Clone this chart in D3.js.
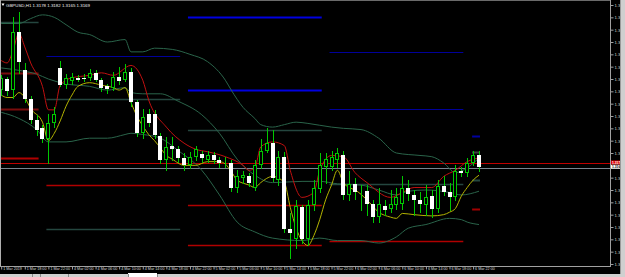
<!DOCTYPE html>
<html>
<head>
<meta charset="utf-8">
<script src="https://cdn.jsdelivr.net/npm/d3@7"></script>
<style>
body { margin: 0; background: #000; overflow: hidden; }
svg { display: block; }
</style>
</head>
<body>
<div id="chart"></div>
<script>
// GBPUSD H1, 1 Mar 2019 14:00 .. 6 Mar 2019 23:00
var symbol = "GBPUSD,H1";

var opens = [1.3231,1.3240,1.3231,1.3278,1.3247,1.3224,1.3207,1.3200,1.3191,1.3204,
  1.3249,1.3235,1.3238,1.3241,1.3241,1.3241,1.3245,1.3239,1.3234,1.3233,
  1.3242,1.3239,1.3246,1.3221,1.3196,1.3212,1.3212,1.3194,1.3174,1.3186,
  1.3183,1.3176,1.3170,1.3177,1.3179,1.3174,1.3178,1.3174,1.3172,1.3172,
  1.3152,1.3160,1.3161,1.3152,1.3170,1.3182,1.3188,1.3158,1.3177,1.3118,
  1.3110,1.3136,1.3110,1.3138,1.3151,1.3169,1.3169,1.3174,1.3178,1.3146,
  1.3155,1.3148,1.3149,1.3139,1.3128,1.3137,1.3135,1.3138,1.3139,1.3152,
  1.3146,1.3142,1.3138,1.3145,1.3135,1.3153,1.3148,1.3144,1.3165,1.3164,
  1.3172,1.3178];
var highs = [1.3243,1.3242,1.3290,1.3294,1.3253,1.3226,1.3211,1.3203,1.3212,1.3217,
  1.3255,1.3244,1.3245,1.3243,1.3244,1.3248,1.3247,1.3241,1.3236,1.3246,
  1.3250,1.3252,1.3249,1.3223,1.3216,1.3216,1.3215,1.3196,1.3193,1.3193,
  1.3186,1.3180,1.3181,1.3186,1.3182,1.3182,1.3181,1.3177,1.3177,1.3174,
  1.3166,1.3165,1.3164,1.3174,1.3191,1.3200,1.3199,1.3182,1.3181,1.3131,
  1.3142,1.3138,1.3142,1.3158,1.3180,1.3180,1.3182,1.3184,1.3182,1.3165,
  1.3160,1.3154,1.3154,1.3142,1.3152,1.3142,1.3150,1.3152,1.3161,1.3158,
  1.3150,1.3148,1.3154,1.3150,1.3158,1.3161,1.3156,1.3170,1.3169,1.3176,
  1.3182,1.3182];
var lows = [1.3227,1.3227,1.3225,1.3245,1.3221,1.3204,1.3195,1.3189,1.3172,1.3201,
  1.3234,1.3233,1.3236,1.3238,1.3238,1.3239,1.3238,1.3230,1.3229,1.3231,
  1.3236,1.3238,1.3218,1.3194,1.3192,1.3202,1.3192,1.3172,1.3166,1.3174,
  1.3173,1.3166,1.3168,1.3174,1.3173,1.3173,1.3172,1.3169,1.3169,1.3149,
  1.3148,1.3156,1.3153,1.3150,1.3168,1.3181,1.3157,1.3154,1.3116,1.3095,
  1.3103,1.3107,1.3105,1.3134,1.3148,1.3156,1.3166,1.3169,1.3143,1.3142,
  1.3143,1.3134,1.3130,1.3124,1.3124,1.3130,1.3132,1.3135,1.3135,1.3142,
  1.3130,1.3132,1.3130,1.3128,1.3132,1.3146,1.3134,1.3142,1.3161,1.3161,
  1.3170,1.3165];
var closes = [1.3241,1.3230,1.3278,1.3254,1.3224,1.3207,1.3199,1.3191,1.3204,1.3212,
  1.3235,1.3241,1.3242,1.3239,1.3240,1.3245,1.3239,1.3233,1.3232,1.3242,
  1.3238,1.3246,1.3221,1.3196,1.3209,1.3204,1.3195,1.3174,1.3185,1.3183,
  1.3176,1.3170,1.3177,1.3183,1.3176,1.3178,1.3174,1.3172,1.3173,1.3152,
  1.3161,1.3162,1.3156,1.3170,1.3182,1.3188,1.3160,1.3177,1.3118,1.3115,
  1.3137,1.3110,1.3138,1.3152,1.3170,1.3175,1.3177,1.3180,1.3146,1.3155,
  1.3148,1.3149,1.3139,1.3128,1.3139,1.3134,1.3139,1.3144,1.3152,1.3147,
  1.3142,1.3139,1.3144,1.3135,1.3153,1.3148,1.3144,1.3165,1.3164,1.3172,
  1.3178,1.3169];

// indicator readings: [bar, price]
var maRed = [[0,1.3255],[1,1.3253],[2,1.3263],[3,1.3277],[4,1.3266],[5,1.3253],[7,1.3234],[8,1.3215],
  [9,1.3215],[10,1.3235],[12,1.3241],[15,1.3243],[17,1.3245],[19,1.3243],[22,1.3251],[24,1.3239],
  [25,1.3223],[28,1.3201],[31,1.3188],[33,1.3183],[35,1.3181],[38,1.3177],[41,1.3170],[42,1.3166],
  [43,1.3168],[44,1.3185],[46,1.3189],[48,1.3186],[49,1.3166],[51,1.3144],[53,1.3148],[54,1.3166],
  [56,1.3178],[58,1.3177],[60,1.3164],[62,1.3156],[66,1.3144],[68,1.3148],[70,1.3152],[73,1.3152],
  [75,1.3161],[77,1.3166],[79,1.3173],[81,1.3176]];
var maYellow = [[0,1.3227],[1,1.3225],[2,1.3225],[3,1.3229],[4,1.3225],[5,1.3216],[7,1.3205],[8,1.3190],
  [9,1.3196],[10,1.3206],[11,1.3218],[12,1.3227],[13,1.3234],[15,1.3237],[17,1.3235],[19,1.3233],
  [20,1.3231],[21,1.3233],[22,1.3221],[23,1.3210],[24,1.3202],[25,1.3195],[26,1.3190],[27,1.3184],
  [28,1.3178],[29,1.3175],[31,1.3170],[33,1.3170],[35,1.3173],[37,1.3173],[38,1.3171],[39,1.3165],
  [40,1.3158],[42,1.3154],[43,1.3152],[44,1.3156],[46,1.3161],[48,1.3156],[49,1.3136],[50,1.3119],
  [51,1.3109],[52,1.3105],[53,1.3113],[54,1.3126],[55,1.3142],[56,1.3154],[57,1.3166],[58,1.3156],
  [59,1.3152],[60,1.3150],[62,1.3142],[64,1.3132],[66,1.3128],[67,1.3127],[68,1.3131],[70,1.3130],
  [73,1.3129],[75,1.3130],[76,1.3132],[77,1.3135],[78,1.3145],[79,1.3152],[80,1.3158],[81,1.3162]];
var bbUpper = [[0,1.3285],[3,1.3285],[5,1.3289],[7,1.3292],[9,1.3290],[11,1.3284],[13,1.3278],[15,1.3276],
  [18,1.3270],[21,1.3272],[22,1.3262],[24,1.3262],[26,1.3265],[29,1.3264],[32,1.3260],[35,1.3254],
  [38,1.3239],[39,1.3231],[41,1.3217],[43,1.3208],[44,1.3203],[46,1.3201],[48,1.3203],[50,1.3205],
  [52,1.3204],[56,1.3201],[58,1.3200],[61,1.3199],[64,1.3192],[67,1.3180],[71,1.3178],[73,1.3177],
  [75,1.3172],[77,1.3164],[79,1.3168],[81,1.3176]];
var bbMiddle = [[0,1.3249],[3,1.3247],[6,1.3244],[8,1.3240],[11,1.3236],[15,1.3234],[18,1.3231],[21,1.3233],
  [22,1.3229],[24,1.3228],[27,1.3228],[30,1.3222],[34,1.3211],[37,1.3196],[40,1.3175],[43,1.3162],
  [46,1.3156],[51,1.3157],[54,1.3157],[57,1.3155],[61,1.3154],[64,1.3150],[67,1.3146],[69,1.3149],
  [72,1.3150],[76,1.3148],[78,1.3146],[81,1.3149]];
var bbLower = [[0,1.3213],[3,1.3208],[6,1.3199],[8,1.3189],[11,1.3189],[15,1.3192],[18,1.3192],[21,1.3195],
  [22,1.3196],[24,1.3195],[27,1.3192],[30,1.3182],[34,1.3166],[37,1.3146],[40,1.3124],[43,1.3116],
  [46,1.3111],[51,1.3109],[54,1.3111],[57,1.3109],[61,1.3109],[64,1.3107],[67,1.3112],[69,1.3119],
  [72,1.3122],[76,1.3127],[78,1.3126],[79,1.3124],[81,1.3122]];

// daily level segments: [fromBar, toBar, price]
var tealLevels = [[-16,6,1.3286],[8,30,1.3224],[8,30,1.3118],[32,54,1.3199],[56,78,1.3155]];
var blueLevels = [[8,30,1.3259],[32,54,1.3290],[32,54,1.3231],[56,78,1.3262],[56,78,1.3216]];
var redLevels = [[-16,6,1.3245],[-16,6,1.3216],[-16,6,1.3176],[8,30,1.3154],[32,54,1.3138],[32,54,1.3105],[56,78,1.3109]];
var blueStubs = [1.3194], grayStubs = [1.3181], tealStubs = [1.3158], redStubs = [1.3135];

var askPrice = 1.3172, bidPrice = 1.3168;

var priceTicks = d3.range(0, 22).map(function(k) { return +(1.3300 - k * 0.0010).toFixed(4); });
var timeTickBars = [0,4,8,12,16,20,24,28,32,36,40,44,48,52,56,60,64,68,72,76,80];
var timeTickLabels = ["1 Mar 2019","1 Mar 18:00","1 Mar 22:00","4 Mar 02:00","4 Mar 06:00","4 Mar 10:00",
  "4 Mar 14:00","4 Mar 18:00","4 Mar 22:00","5 Mar 02:00","5 Mar 06:00","5 Mar 10:00","5 Mar 14:00",
  "5 Mar 18:00","5 Mar 22:00","6 Mar 02:00","6 Mar 06:00","6 Mar 10:00","6 Mar 14:00","6 Mar 18:00",
  "6 Mar 22:00"];

var W = 625, H = 277, plotW = 610, plotH = 266;
var green = "#00c800", font = "Liberation Sans, Arial, sans-serif";

var svg = d3.select("#chart").append("svg").attr("width", W).attr("height", H);
svg.append("rect").attr("width", W).attr("height", H).attr("fill", "#000");

var x = d3.scaleLinear().domain([0, 81]).range([1.2, 479]);
var y = d3.scaleLinear().domain([1.3300, 1.3090]).range([5, 264]);

svg.append("defs").append("clipPath").attr("id", "plot")
  .append("rect").attr("width", plotW).attr("height", plotH);
var plot = svg.append("g").attr("clip-path", "url(#plot)");

function py(p) { return Math.round(y(p)) + 0.5; }

// level segments
function drawLevels(data, color, width) {
  plot.append("g").selectAll("line").data(data).join("line")
    .attr("x1", function(d) { return x(d[0]) - 2; })
    .attr("x2", function(d) { return x(d[1]) + 2; })
    .attr("y1", function(d) { return py(d[2]); })
    .attr("y2", function(d) { return py(d[2]); })
    .attr("stroke", typeof color === "function" ? color : function() { return color; })
    .attr("stroke-width", width);
}
drawLevels(tealLevels, "#24463f", 1.5);
drawLevels(blueLevels, function(d) { return d[0] == 32 ? "#0000e0" : "#00009a"; },
  function(d) { return d[0] == 32 ? 2 : 1; });
drawLevels(redLevels, function(d) { return d[0] < 0 && d[2] > 1.3200 ? "#7a0c0c" : "#b00000"; },
  function(d) { return d[0] < 0 ? 2 : 1.5; });

function drawStubs(data, color) {
  plot.append("g").selectAll("line").data(data).join("line")
    .attr("x1", x(80) - 1).attr("x2", x(81) + 1)
    .attr("y1", py).attr("y2", py)
    .attr("stroke", color).attr("stroke-width", 2);
}
drawStubs(blueStubs, "#0000a0");
drawStubs(grayStubs, "#404040");
drawStubs(tealStubs, "#24463f");
drawStubs(redStubs, "#a00000");

// bid / ask lines
plot.append("line").attr("x1", 0).attr("x2", plotW).attr("y1", py(askPrice)).attr("y2", py(askPrice))
  .attr("stroke", "#c00000");
plot.append("line").attr("x1", 0).attr("x2", plotW).attr("y1", py(bidPrice)).attr("y2", py(bidPrice))
  .attr("stroke", "#7a8490");

// indicators
var line = d3.line()
  .x(function(d) { return x(d[0]); })
  .y(function(d) { return y(d[1]); })
  .curve(d3.curveMonotoneX);

[bbUpper, bbMiddle, bbLower].forEach(function(s) {
  plot.append("path").attr("d", line(s)).attr("fill", "none").attr("stroke", "#2a644a");
});
plot.append("path").attr("d", line(maYellow)).attr("fill", "none").attr("stroke", "#b4b400");
plot.append("path").attr("d", line(maRed)).attr("fill", "none").attr("stroke", "#c01010");

// candles
var bars = d3.range(opens.length);
var cg = plot.append("g");
cg.selectAll("line").data(bars).join("line")
  .attr("x1", function(i) { return Math.round(x(i)) + 0.5; })
  .attr("x2", function(i) { return Math.round(x(i)) + 0.5; })
  .attr("y1", function(i) { return Math.round(y(highs[i])); })
  .attr("y2", function(i) { return Math.round(y(lows[i])) + 1; })
  .attr("stroke", green);

cg.selectAll("rect").data(bars).join("rect")
  .each(function(i) {
    var cx = Math.round(x(i));
    var top = Math.round(y(Math.max(opens[i], closes[i])));
    var bot = Math.round(y(Math.min(opens[i], closes[i])));
    var h = Math.max(1, bot - top);
    var r = d3.select(this);
    if (closes[i] >= opens[i]) {
      r.attr("x", cx - 1.5).attr("y", top + 0.5).attr("width", 3).attr("height", Math.max(0, h - 1))
        .attr("fill", "#000").attr("stroke", green);
    } else {
      r.attr("x", cx - 2).attr("y", top).attr("width", 4).attr("height", h).attr("fill", "#fff");
    }
  });

// frame
svg.append("line").attr("x1", 0).attr("x2", plotW + 0.5).attr("y1", 0.5).attr("y2", 0.5).attr("stroke", "#6a6a6a");
svg.append("line").attr("x1", 0.5).attr("x2", 0.5).attr("y1", 0).attr("y2", plotH).attr("stroke", "#b0b0b0");
svg.append("line").attr("x1", plotW + 0.5).attr("x2", plotW + 0.5).attr("y1", 0).attr("y2", plotH + 1).attr("stroke", "#a0a0a0");
svg.append("line").attr("x1", 0).attr("x2", plotW + 1).attr("y1", plotH + 0.5).attr("y2", plotH + 0.5).attr("stroke", "#a0a0a0");

// price axis
var yAxis = d3.axisRight(y).tickValues(priceTicks).tickSize(3).tickSizeOuter(0).tickFormat(d3.format(".4f"));
var gy = svg.append("g").attr("transform", "translate(" + (plotW + 0.5) + ",0)").call(yAxis);
gy.select(".domain").remove();
gy.selectAll(".tick line").attr("stroke", "#a0a0a0");
gy.selectAll(".tick text").attr("x", 4).attr("dy", "0.35em")
  .attr("fill", "#d0d0d0").attr("font-size", 4.2).attr("font-family", font);
gy.selectAll(".tick").filter(function(d) { return Math.abs(d - 1.3170) < 0.00001; }).select("text").remove();

// current price boxes
function priceBox(p, top, bg, fg) {
  var g = svg.append("g");
  g.append("rect").attr("x", plotW + 1).attr("y", top).attr("width", 10).attr("height", 4).attr("fill", bg);
  g.append("text").attr("x", plotW + 2).attr("y", top + 3.1).attr("font-size", 3.3)
    .attr("font-family", font).attr("font-weight", "bold").attr("fill", fg).text(p.toFixed(4));
}
priceBox(askPrice, Math.round(y(askPrice)) - 2.5, "#e00000", "#fff");
priceBox(bidPrice, Math.round(y(askPrice)) + 1.8, "#ffffff", "#000");

// time axis
var xAxis = d3.axisBottom(x).tickValues(timeTickBars).tickSize(3).tickSizeOuter(0)
  .tickFormat(function(d, i) { return timeTickLabels[i]; });
var gx = svg.append("g").attr("transform", "translate(0," + (plotH + 0.5) + ")").call(xAxis);
gx.select(".domain").remove();
gx.selectAll(".tick line").attr("stroke", "#a0a0a0");
gx.selectAll(".tick text").attr("x", 1.5).attr("y", 1.2).attr("dy", "0.75em").attr("text-anchor", "start")
  .attr("fill", "#d8d8d8").attr("font-size", 3.7).attr("font-family", font);

// right scrollbar strip and bottom tabs
svg.append("rect").attr("x", 620).attr("y", 0).attr("width", 5).attr("height", H).attr("fill", "#cfcfcf");
svg.append("line").attr("x1", 620.5).attr("x2", 620.5).attr("y1", 0).attr("y2", H).attr("stroke", "#9a9a9a");
svg.append("rect").attr("x", 0).attr("y", 274).attr("width", W).attr("height", 3).attr("fill", "#d0d0d0");
svg.append("rect").attr("x", 128).attr("y", 273).attr("width", 29).attr("height", 4).attr("fill", "#fff");
[32, 40, 68, 128, 157].forEach(function(sx) {
  svg.append("line").attr("x1", sx + 0.5).attr("x2", sx + 0.5).attr("y1", 274).attr("y2", H).attr("stroke", "#8a8a8a");
});

// title
svg.append("path").attr("d", "M1.5,3.5 L4.5,3.5 L3,6 Z").attr("fill", "#fff");
var last = opens.length - 1;
svg.append("text").attr("x", 6).attr("y", 7).attr("font-size", 4.4).attr("font-family", font).attr("fill", "#f0f0f0")
  .text(symbol + "  " + [opens[last], highs[last], lows[last], closes[last]].map(function(v) { return v.toFixed(4); }).join(" "));
</script>
</body>
</html>
